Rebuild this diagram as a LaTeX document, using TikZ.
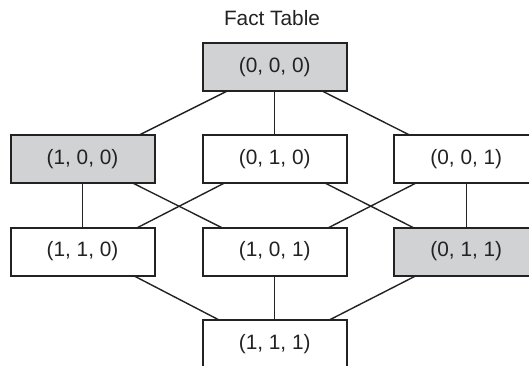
\documentclass[tikz,border=0pt]{standalone}
\usepackage{fontspec}
\setmainfont{Liberation Sans}
\definecolor{boxgray}{HTML}{D1D2D4}
\definecolor{inkcol}{HTML}{222222}
\begin{document}
\begin{tikzpicture}[x=1pt,y=-1pt,
  cell/.style={draw=inkcol, line width=2pt, minimum width=144pt, minimum height=48pt,
    inner sep=0pt, outer sep=0pt, fill=white, text=inkcol,
    font=\fontsize{20.8}{24}\selectfont},
  shaded/.style={cell, fill=boxgray},
  link/.style={draw=inkcol, line width=1.4pt},
  caption/.style={text=inkcol, inner sep=0pt, font=\fontsize{20.8}{24}\selectfont}]
\useasboundingbox (0,0) rectangle (529,366);
\node[caption] (title) at (272,18) {Fact Table};
\node[shaded] (n000) at (274.7,67.3) {(0, 0, 0)};
\node[shaded] (n100) at (82.5,159.4) {(1, 0, 0)};
\node[cell]   (n010) at (274.7,159.4) {(0, 1, 0)};
\node[cell]   (n001) at (466.3,159.4) {(0, 0, 1)};
\node[cell]   (n110) at (82.5,251.6) {(1, 1, 0)};
\node[cell]   (n101) at (274.7,251.6) {(1, 0, 1)};
\node[shaded] (n011) at (466.3,251.6) {(0, 1, 1)};
\node[cell]   (n111) at (274.7,343.8) {(1, 1, 1)};
% top to second row
\draw[link] ([xshift=-48pt]n000.south) -- ([xshift=56pt]n100.north);
\draw[link] (n000.south) -- (n010.north);
\draw[link] ([xshift=48pt]n000.south) -- ([xshift=-56pt]n001.north);
% second to third row
\draw[link] (n100.south) -- (n110.north);
\draw[link] ([xshift=51pt]n100.south) -- ([xshift=-53pt]n101.north);
\draw[link] ([xshift=-51pt]n010.south) -- ([xshift=55pt]n110.north);
\draw[link] ([xshift=51pt]n010.south) -- ([xshift=-53pt]n011.north);
\draw[link] ([xshift=-51pt]n001.south) -- ([xshift=54pt]n101.north);
\draw[link] (n001.south) -- (n011.north);
% third row to bottom
\draw[link] ([xshift=51pt]n110.south) -- ([xshift=-56pt]n111.north);
\draw[link] (n101.south) -- (n111.north);
\draw[link] ([xshift=-50pt]n011.south) -- ([xshift=55pt]n111.north);
\end{tikzpicture}
\end{document}
